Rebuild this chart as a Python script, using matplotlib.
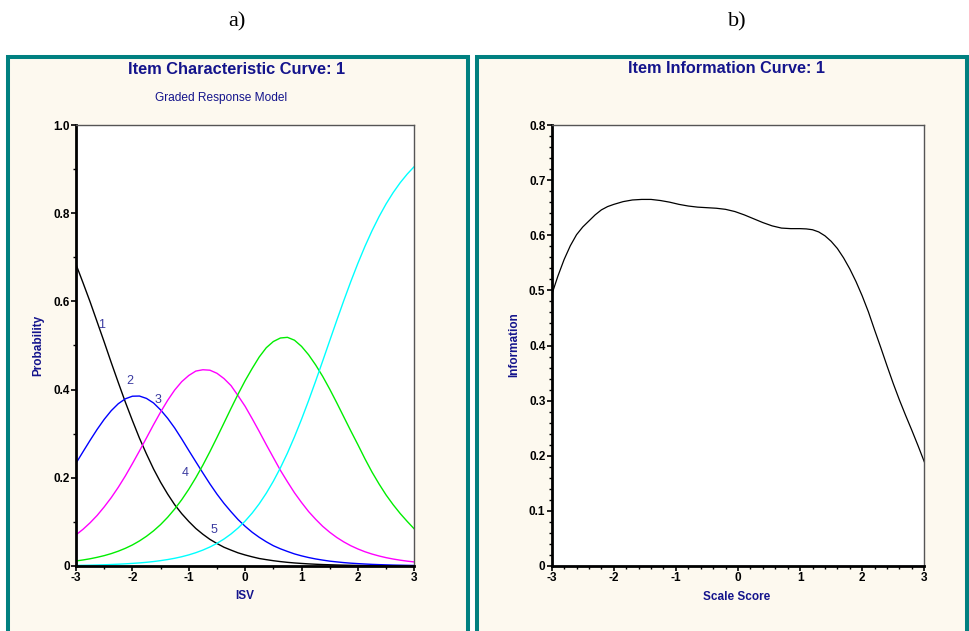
import matplotlib
matplotlib.use("Agg")
import matplotlib.pyplot as plt
from matplotlib.patches import Rectangle
from matplotlib.ticker import MultipleLocator

plt.rcParams['font.family'] = ['Liberation Sans', 'DejaVu Sans']
plt.rcParams['axes.unicode_minus'] = False

# ---------------- data ----------------
theta = [-3.0, -2.875, -2.75, -2.625, -2.5, -2.375, -2.25, -2.125,
         -2.0, -1.875, -1.75, -1.625, -1.5, -1.375, -1.25, -1.125,
         -1.0, -0.875, -0.75, -0.625, -0.5, -0.375, -0.25, -0.125,
         0.0, 0.125, 0.25, 0.375, 0.5, 0.625, 0.75, 0.875,
         1.0, 1.125, 1.25, 1.375, 1.5, 1.625, 1.75, 1.875,
         2.0, 2.125, 2.25, 2.375, 2.5, 2.625, 2.75, 2.875, 3.0]

cat1 = [0.684, 0.642, 0.599, 0.5535, 0.508, 0.4613, 0.416, 0.3717,
        0.330, 0.290, 0.254, 0.2201, 0.190, 0.1632, 0.139, 0.1187,
        0.101, 0.0851, 0.072, 0.0604, 0.051, 0.0425, 0.036, 0.0298,
        0.025, 0.0208, 0.017, 0.0144, 0.012, 0.0100, 0.0083, 0.0069,
        0.0058, 0.0048, 0.0040, 0.0033, 0.0028, 0.0023, 0.0019, 0.0016,
        0.0013, 0.0011, 0.0009, 0.00076, 0.0006, 0.00052, 0.0004, 0.00036, 0.0003]
cat2 = [0.233, 0.2592, 0.285, 0.3098, 0.3325, 0.3522, 0.368, 0.3791,
        0.385, 0.3854, 0.380, 0.3697, 0.354, 0.3350, 0.313, 0.2881,
        0.262, 0.2364, 0.211, 0.1862, 0.163, 0.1419, 0.123, 0.1052,
        0.090, 0.0765, 0.065, 0.0549, 0.046, 0.0390, 0.033, 0.0274,
        0.023, 0.0192, 0.016, 0.0134, 0.011, 0.0093, 0.0077, 0.0064,
        0.0054, 0.0045, 0.0037, 0.0031, 0.0026, 0.0021, 0.0018, 0.0015, 0.0012]
cat3 = [0.0706, 0.0833, 0.098, 0.1147, 0.134, 0.1550, 0.1785, 0.2042,
        0.232, 0.2608, 0.2905, 0.3204, 0.349, 0.3755, 0.399, 0.418,
        0.432, 0.442, 0.445, 0.444, 0.437, 0.425, 0.409, 0.386,
        0.362, 0.334, 0.305, 0.275, 0.246, 0.217, 0.191, 0.166,
        0.144, 0.1235, 0.106, 0.090, 0.0765, 0.0647, 0.0546, 0.0459,
        0.0386, 0.0323, 0.0271, 0.0227, 0.0189, 0.0158, 0.0132, 0.0110, 0.0092]
cat4 = [0.0114, 0.0137, 0.0164, 0.0197, 0.0235, 0.0281, 0.0336, 0.0401,
        0.0477, 0.0568, 0.0674, 0.0797, 0.0939, 0.1104, 0.1292, 0.1503,
        0.1740, 0.2002, 0.2287, 0.2593, 0.2914, 0.3244, 0.3575, 0.3898,
        0.4203, 0.4480, 0.4740, 0.4950, 0.5090, 0.5170, 0.5185, 0.5120,
        0.4980, 0.4790, 0.4560, 0.4300, 0.4010, 0.3700, 0.3380, 0.3060,
        0.2750, 0.2430, 0.2130, 0.1860, 0.1610, 0.1390, 0.1190, 0.1010, 0.0840]
cat5 = [0.0013, 0.0016, 0.0019, 0.0023, 0.0028, 0.0034, 0.0041, 0.0049,
        0.0059, 0.0070, 0.0084, 0.0101, 0.0122, 0.0146, 0.0175, 0.0210,
        0.0252, 0.0302, 0.0361, 0.0431, 0.0514, 0.0612, 0.0727, 0.0862,
        0.1019, 0.1201, 0.1411, 0.1651, 0.1922, 0.2225, 0.2561, 0.2930,
        0.3327, 0.3750, 0.4192, 0.4648, 0.5110, 0.5570, 0.6020, 0.6454,
        0.6865, 0.7249, 0.7602, 0.7923, 0.8212, 0.8467, 0.8692, 0.8888, 0.9059]

cat_names = ['1', '2', '3', '4', '5']
cat_label_pos = [(-2.545, 0.546), (-2.05, 0.419), (-1.55, 0.376), (-1.055, 0.210), (-0.553, 0.082)]

theta_info = [-3.0, -2.9, -2.8, -2.7, -2.6, -2.5, -2.4, -2.3, -2.2, -2.1, -2.0,
              -1.85, -1.7, -1.55, -1.4, -1.25, -1.1, -0.95, -0.8, -0.65, -0.5,
              -0.35, -0.2, -0.05, 0.1, 0.25, 0.4, 0.55, 0.7, 0.85, 1.0,
              1.1, 1.2, 1.3, 1.4, 1.5, 1.6, 1.7, 1.8, 1.9, 2.0,
              2.1, 2.2, 2.3, 2.4, 2.5, 2.6, 2.7, 2.8, 2.9, 3.0]
info = [0.492, 0.526, 0.556, 0.581, 0.601, 0.615, 0.626, 0.637, 0.646, 0.652, 0.656,
        0.661, 0.664, 0.665, 0.665, 0.663, 0.660, 0.656, 0.653, 0.651, 0.650,
        0.649, 0.647, 0.643, 0.637, 0.630, 0.623, 0.617, 0.613, 0.612, 0.612,
        0.6115, 0.610, 0.606, 0.599, 0.589, 0.576, 0.559, 0.539, 0.516, 0.490,
        0.461, 0.428, 0.396, 0.363, 0.331, 0.301, 0.273, 0.246, 0.218, 0.189]

x_ticks = [-3, -2, -1, 0, 1, 2, 3]
icc_yticks = [0, 0.2, 0.4, 0.6, 0.8, 1.0]
icc_ylabels = ['0', '0.2', '0.4', '0.6', '0.8', '1.0']
iic_yticks = [0, 0.1, 0.2, 0.3, 0.4, 0.5, 0.6, 0.7, 0.8]
iic_ylabels = ['0', '0.1', '0.2', '0.3', '0.4', '0.5', '0.6', '0.7', '0.8']

# ---------------- figure ----------------
W, H = 969, 631
fig = plt.figure(figsize=(W / 100, H / 100), dpi=100)
fig.patch.set_facecolor('white')

def fx(px):
    return px / W

def fy(py):
    return 1 - py / H

teal = '#008080'
cream = '#fdf9ef'
navy = '#14148c'
label_blue = '#3a3aa0'

# panels
for (x0, x1) in [(8, 467.5), (477, 967)]:
    r = Rectangle((fx(x0), fy(700)), fx(x1) - fx(x0), fy(57) - fy(700),
                  transform=fig.transFigure, facecolor=cream, edgecolor=teal,
                  linewidth=2.9, zorder=-1)
    fig.add_artist(r)

# panel letters
fig.text(fx(237), fy(22), 'a)', family=['Liberation Serif', 'DejaVu Serif'], fontsize=16,
         ha='center', va='center')
fig.text(fx(737), fy(22), 'b)', family=['Liberation Serif', 'DejaVu Serif'], fontsize=16,
         ha='center', va='center')

# titles
fig.text(fx(236.7), fy(69), 'Item Characteristic Curve: 1', color=navy, fontsize=11.8,
         fontweight='bold', ha='center', va='center')
fig.text(fx(221), fy(98), 'Graded Response Model', color=navy, fontsize=8.6,
         ha='center', va='center')
fig.text(fx(727), fy(68.5), 'Item Information Curve: 1', color=navy, fontsize=11.7,
         fontweight='bold', ha='center', va='center')

# axis labels
fig.text(fx(245), fy(596), 'ISV', color=navy, fontsize=8.5, fontweight='bold',
         ha='center', va='center')
fig.text(fx(38), fy(345), 'Probability', color=navy, fontsize=8.5, fontweight='bold',
         ha='center', va='center', rotation=90)
fig.text(fx(737), fy(597), 'Scale Score', color=navy, fontsize=8.5, fontweight='bold',
         ha='center', va='center')
fig.text(fx(514), fy(345), 'Information', color=navy, fontsize=8.5, fontweight='bold',
         ha='center', va='center', rotation=90)

def style_axes(ax):
    ax.set_facecolor('white')
    for s in ['left', 'bottom']:
        ax.spines[s].set_linewidth(2.0)
        ax.spines[s].set_color('black')
    for s in ['top', 'right']:
        ax.spines[s].set_linewidth(1.0)
        ax.spines[s].set_color('#555555')
    ax.tick_params(which='major', direction='out', length=3.5, width=1.2, pad=1,
                   labelsize=8.5, colors='black')
    ax.tick_params(which='minor', direction='out', length=2.5, width=1.0)
    ax.tick_params(top=False, right=False, which='both')
    for lab in ax.get_xticklabels() + ax.get_yticklabels():
        lab.set_fontweight('bold')

# ---- left: ICC ----
ax1 = fig.add_axes([fx(76), fy(566), fx(414.3) - fx(76), fy(125) - fy(566)])
colors = ['black', '#0000ff', '#ff00ff', '#00ee00', '#00ffff']
for vals, c in zip([cat1, cat2, cat3, cat4, cat5], colors):
    ax1.plot(theta, vals, color=c, lw=1.0, solid_joinstyle='round')
for name, (tx, ty) in zip(cat_names, cat_label_pos):
    ax1.text(tx, ty, name, color=label_blue, fontsize=9, ha='center', va='center')
ax1.set_xlim(-3, 3)
ax1.set_ylim(0, 1.0)
ax1.set_xticks(x_ticks)
ax1.set_xticklabels([str(t) for t in x_ticks])
ax1.set_yticks(icc_yticks)
ax1.set_yticklabels(icc_ylabels)
ax1.xaxis.set_minor_locator(MultipleLocator(0.5))
ax1.yaxis.set_minor_locator(MultipleLocator(0.1))
style_axes(ax1)

# ---- right: IIC ----
ax2 = fig.add_axes([fx(551.7), fy(566), fx(924.3) - fx(551.7), fy(125) - fy(566)])
ax2.plot(theta_info, info, color='black', lw=0.9, solid_joinstyle='round')
ax2.set_xlim(-3, 3)
ax2.set_ylim(0, 0.8)
ax2.set_xticks(x_ticks)
ax2.set_xticklabels([str(t) for t in x_ticks])
ax2.set_yticks(iic_yticks)
ax2.set_yticklabels(iic_ylabels)
ax2.xaxis.set_minor_locator(MultipleLocator(0.2))
ax2.yaxis.set_minor_locator(MultipleLocator(0.02))
style_axes(ax2)

fig.savefig('out.png', dpi=100)
